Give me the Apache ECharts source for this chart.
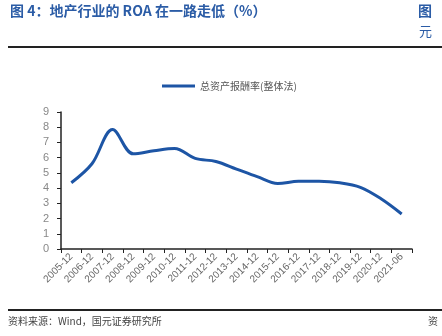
<!DOCTYPE html>
<html><head><meta charset="utf-8">
<script src="https://cdn.jsdelivr.net/npm/echarts@6/dist/echarts.min.js"></script>
<style>html,body{margin:0;padding:0;background:#fff}#c{width:442px;height:336px}</style>
</head><body><div id="c"></div>
<script>
var categories = ['2005-12','2006-12','2007-12','2008-12','2009-12','2010-12','2011-12','2012-12','2013-12','2014-12','2015-12','2016-12','2017-12','2018-12','2019-12','2020-12','2021-06'];
var roa = [4.35,5.6,7.85,6.25,6.45,6.6,5.95,5.75,5.25,4.75,4.3,4.45,4.45,4.35,4.05,3.3,2.3];
var seriesName = '总资产报酬率(整体法)';
var yTicks = {min:0, max:9, interval:1};
var chart = echarts.init(document.getElementById('c'));
var cjk = '"Noto Sans CJK SC", sans-serif';
chart.setOption({
  animation:false,
  graphic:[
    {type:'text', left:10, top:4, style:{text:'图 4：地产行业的 ROA 在一路走低（%）', font:'bold 14px "Noto Sans CJK SC", sans-serif', fill:'#2b5ca6'}},
    {type:'text', left:418, top:4, style:{text:'图', font:'bold 14px "Noto Sans CJK SC", sans-serif', fill:'#2b5ca6'}},
    {type:'text', left:419, top:25, style:{text:'元', font:'13px "Noto Sans CJK SC", sans-serif', fill:'#2b5ca6'}},
    {type:'rect', shape:{x:8, y:46, width:434, height:2}, style:{fill:'#222'}},
    {type:'rect', shape:{x:8, y:309, width:434, height:2}, style:{fill:'#222'}},
    {type:'text', left:8, top:316, style:{text:'资料来源：Wind，国元证券研究所', font:'10px "Noto Sans CJK SC", sans-serif', fill:'#444'}},
    {type:'text', left:428, top:316, style:{text:'资', font:'10px "Noto Sans CJK SC", sans-serif', fill:'#444'}}
  ],
  legend:{
    data:[seriesName], top:76, left:157, itemWidth:33, itemHeight:3, itemGap:4,
    icon:'rect',
    textStyle:{fontFamily:cjk, fontSize:10, color:'#555'}
  },
  grid:{left:61, right:30, top:112, bottom:87},
  xAxis:{
    type:'category', data:categories, boundaryGap:true,
    axisLine:{lineStyle:{color:'#222', width:1.5}},
    axisTick:{show:true, length:4, inside:false, lineStyle:{color:'#222'}},
    axisLabel:{rotate:45, fontSize:10, color:'#666', fontFamily:'Liberation Sans, Arial', interval:0, margin:6}
  },
  yAxis:{
    type:'value', min:yTicks.min, max:yTicks.max, interval:yTicks.interval,
    axisLine:{show:true, lineStyle:{color:'#222', width:1.5}},
    axisTick:{show:true, length:4, lineStyle:{color:'#222'}},
    splitLine:{show:false},
    axisLabel:{fontSize:11, color:'#888', fontFamily:'Liberation Sans, Arial', margin:12}
  },
  series:[{
    name:seriesName, type:'line', data:roa, smooth:0.35, showSymbol:false,
    lineStyle:{color:'#1d55a5', width:3},
    itemStyle:{color:'#1d55a5'}
  }]
});
</script></body></html>
